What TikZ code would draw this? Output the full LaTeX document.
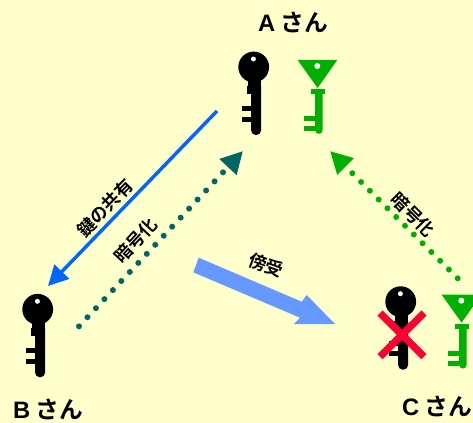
\documentclass[tikz,border=0pt]{standalone}
\usepackage{fontspec}
\setmainfont{Noto Sans CJK JP}[BoldFont={* Bold}]
\newfontfamily\latinbold{Liberation Sans Bold}
\usetikzlibrary{arrows.meta}
\definecolor{bg}{RGB}{255,255,204}
\definecolor{kgreen}{RGB}{0,176,0}
\definecolor{teal2}{RGB}{0,102,102}
\definecolor{blue1}{RGB}{0,102,255}
\definecolor{blue2}{RGB}{102,153,255}
\definecolor{red1}{RGB}{255,0,51}
\tikzset{
  x=0.75pt,y=-0.75pt,
  person/.style={font=\bfseries\fontsize{17.8}{20}\selectfont,inner sep=0pt},
  lab/.style={font=\bfseries\fontsize{13.3}{15}\selectfont,inner sep=0pt},
  dots/.style={line width=4.5pt,line cap=round,dash pattern=on 0pt off 9.3pt},
  blackkey/.pic={
    \fill[black] (0,0) circle (15.4);
    \fill[black] (-5.4,10) rectangle (7.5,20);
    \fill[black] (-7,19) rectangle (7.5,27);
    \fill[black] (-2.7,19) -- (7.5,19) -- (7.5,63) arc (0:180:5.1) -- cycle;
    \fill[black] (-12,39) rectangle (-2,44);
    \fill[black] (-12,49.7) rectangle (-2,54.7);
    \fill[white] (-0.3,-8) circle (2.5);
  },
  greenkey/.pic={
    \fill[kgreen] (-19.7,-6) -- (20,-6) -- (0.3,22) -- cycle;
    \fill[kgreen] (-6.3,23) rectangle (7.7,28);
    \fill[kgreen] (-2.3,25) -- (5.4,25) -- (5.4,64) arc (0:180:3.85) -- cycle;
    \fill[kgreen] (-13.3,50) rectangle (-2,55);
    \fill[kgreen] (-13.3,60) rectangle (-2,65);
    \fill[white] (0,0) circle (3);
  }
}
\begin{document}
\begin{tikzpicture}
\useasboundingbox (0,0) rectangle (473,423);
\clip (0,0) rectangle (473,423);
\fill[bg] (0,0) rectangle (473,423);
% keys
\pic at (253.7,67) {blackkey};
\pic at (317.3,66) {greenkey};
\pic at (37.7,309.3) {blackkey};
\pic at (400.7,301.7) {blackkey};
\pic at (461.3,300.7) {greenkey};
% cross
\coordinate (x1) at (380,313);
\coordinate (x2) at (424,356.7);
\coordinate (x3) at (424,313);
\coordinate (x4) at (380,356.7);
\draw[red1,line width=5.5pt] (x1) -- (x2);
\draw[red1,line width=5.5pt] (x3) -- (x4);
% connectors
\coordinate (shareS) at (217,111);
\coordinate (shareE) at (48,286);
\draw[blue1,line width=2.6pt,-{Triangle[length=15pt,width=15pt]}] (shareS) -- (shareE);
\coordinate (encBs) at (79,326.3);
\coordinate (encBe) at (243,151);
\draw[teal2,dots,-{Triangle[length=16.5pt,width=16.5pt]}] (encBs) -- (encBe);
\coordinate (encCs) at (457.7,278.3);
\coordinate (encCe) at (330,151);
\draw[kgreen,dots,-{Triangle[length=16.5pt,width=16.5pt]}] (encCs) -- (encCe);
% big arrow
\fill[blue2] (198.7,257.7) -- (301.7,301.7) -- (306.7,295) -- (335,324) -- (294,324) -- (300,317.7) -- (193.3,272.3) -- cycle;
% labels
\node[person] (A) at (293,22) {{\latinbold A} さん};
\node[person] (B) at (48,409.5) {{\latinbold B} さん};
\node[person] (C) at (437,406) {{\latinbold C} さん};
\node[lab,rotate=46] (l1) at (105,208) {鍵の共有};
\node[lab,rotate=47] (l2) at (136,240) {暗号化};
\node[lab,rotate=-20] (l3) at (266,265) {傍受};
\node[lab,rotate=-45] (l4) at (413,215) {暗号化};
\end{tikzpicture}
\end{document}
